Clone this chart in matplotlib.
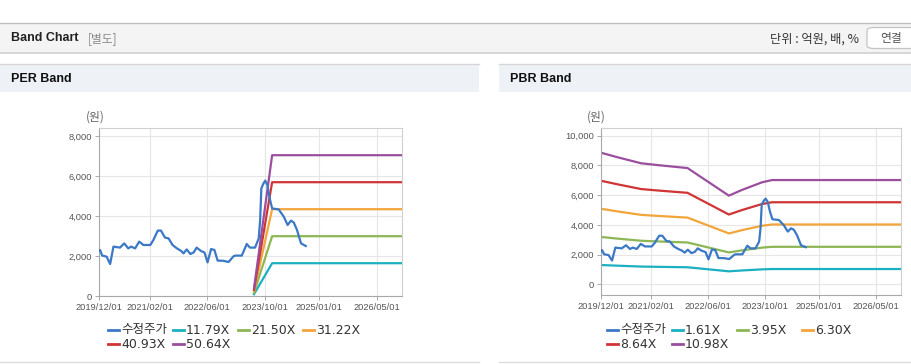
import matplotlib
matplotlib.use("Agg")
import matplotlib.pyplot as plt
import matplotlib.dates as mdates
from matplotlib.patches import Rectangle, FancyBboxPatch
from matplotlib.lines import Line2D
from matplotlib.ticker import FuncFormatter
import pandas as pd

W, H = 912, 364

# 수정주가 (원)
price_dates = [
    "2019-12-01", "2019-12-10", "2019-12-28", "2020-02-03", "2020-03-04", "2020-04-01",
    "2020-05-26", "2020-07-01", "2020-08-04", "2020-08-28", "2020-10-01", "2020-11-04",
    "2020-12-10", "2021-02-06", "2021-03-04", "2021-04-10", "2021-05-07", "2021-06-10",
    "2021-07-10", "2021-08-13", "2021-09-19", "2021-10-25", "2021-11-13", "2021-12-10",
    "2022-01-10", "2022-02-07", "2022-03-04", "2022-04-10", "2022-05-10", "2022-06-04",
    "2022-07-04", "2022-08-01", "2022-08-28", "2022-10-16", "2022-11-28", "2023-01-10",
    "2023-01-25", "2023-03-20", "2023-05-01", "2023-05-28", "2023-07-10", "2023-08-10",
    "2023-08-22", "2023-09-01", "2023-09-19", "2023-10-04", "2023-10-22", "2023-11-10",
    "2023-12-01", "2024-01-25", "2024-03-08", "2024-04-10", "2024-05-08", "2024-06-01",
    "2024-06-28", "2024-08-01", "2024-09-10",
]
price = [
    2265, 2300, 2020, 1970, 1600, 2470,
    2420, 2630, 2380, 2470, 2380, 2720,
    2550, 2550, 2800, 3270, 3270, 2920,
    2880, 2550, 2380, 2250, 2130, 2330,
    2100, 2180, 2420, 2250, 2170, 1680,
    2350, 2300, 1770, 1760, 1700, 1990,
    2020, 2020, 2600, 2420, 2420, 2880,
    3800, 5380, 5630, 5770, 5550, 4900,
    4380, 4330, 3970, 3550, 3770, 3670,
    3300, 2630, 2500,
]

# PER band
per_dates = ["2023-07-01", "2023-12-01", "2026-12-01"]
per_labels = ["11.79X", "21.50X", "31.22X", "40.93X", "50.64X"]
per_1179 = [88, 1640, 1640]
per_2150 = [161, 2990, 2990]
per_3122 = [234, 4340, 4340]
per_4093 = [307, 5690, 5690]
per_5064 = [380, 7040, 7040]

# PBR band
pbr_dates = [
    "2019-12-01", "2020-04-22", "2020-11-07", "2021-03-25", "2021-11-07", "2021-12-07",
    "2022-11-25", "2023-03-15", "2023-09-04", "2023-11-28", "2026-12-01",
]
pbr_labels = ["1.61X", "3.95X", "6.30X", "8.64X", "10.98X"]
pbr_161 = [1299, 1253, 1195, 1177, 1151, 1148, 875, 931, 1007, 1029, 1029]
pbr_395 = [3187, 3075, 2932, 2888, 2824, 2816, 2147, 2284, 2471, 2525, 2525]
pbr_630 = [5084, 4906, 4676, 4608, 4504, 4493, 3426, 3644, 3942, 4028, 4028]
pbr_864 = [6973, 6729, 6414, 6320, 6178, 6162, 4698, 4997, 5407, 5525, 5525]
pbr_1098 = [8860, 8550, 8150, 8030, 7850, 7830, 5970, 6350, 6870, 7020, 7020]

tick_dates = ["2019-12-01", "2021-02-01", "2022-06-01", "2023-10-01", "2025-01-01", "2026-05-01"]
x_range = ["2019-12-01", "2026-12-01"]

price_color = "#3b78c6"
band_colors = ["#1bb0c2", "#8db654", "#f2a53a", "#d03434", "#9a4f9e"]
price_label = "수정주가"

plt.rcParams["font.family"] = ["Liberation Sans", "Noto Sans CJK KR"]
fig = plt.figure(figsize=(W / 100, H / 100), dpi=100)


def fx(x):
    return x / W


def fy(y):
    return 1 - y / H


def rect(x0, y0, x1, y1, color):
    fig.patches.append(Rectangle((fx(x0), fy(y1)), fx(x1 - x0), (y1 - y0) / H,
                                 transform=fig.transFigure, color=color, lw=0, zorder=0))


def hline(x0, x1, y, color, lw=1.0):
    fig.add_artist(Line2D([fx(x0), fx(x1)], [fy(y), fy(y)], color=color, lw=lw,
                          transform=fig.transFigure))


# 상단 헤더
hline(0, W, 22.5, "#bdbdbd")
rect(0, 23, W, 52, "#f4f4f4")
hline(0, W, 52.5, "#cfcfcf", 1.2)
fig.text(fx(11), fy(38), "Band Chart", fontsize=9, fontweight="bold", color="#222222", va="center")
fig.text(fx(88), fy(38.5), "[별도]", fontsize=8.5, color="#8a8a8a", va="center",
         family=["Noto Sans CJK KR"])
fig.text(fx(859), fy(39), "단위 : 억원, 배, %", fontsize=8.8, color="#333333", va="center",
         ha="right", family=["Noto Sans CJK KR", "DejaVu Sans"])
fig.patches.append(FancyBboxPatch((fx(867), fy(48.5)), fx(50), 21 / H,
                                  boxstyle="round,pad=0,rounding_size=0.008",
                                  transform=fig.transFigure, fc="white", ec="#c4c4c4", lw=0.9))
fig.text(fx(891), fy(38.5), "연결", fontsize=8.5, color="#555555", va="center", ha="center",
         family=["Noto Sans CJK KR"])

# 패널 헤더
for x0, x1, title in [(0, 479, "PER Band"), (499, W, "PBR Band")]:
    rect(x0, 64, x1, 92, "#eef2f7")
    hline(x0, x1, 64, "#d6d6d6")
    hline(x0, x1, 362, "#dddddd")
    fig.text(fx(x0 + 11), fy(79), title, fontsize=9, fontweight="bold", color="#111111", va="center")


def style_axes(ax, ylim, yticks):
    ax.set_xlim(pd.to_datetime(x_range[0]), pd.to_datetime(x_range[1]))
    ax.set_ylim(*ylim)
    ax.set_yticks(yticks)
    ax.yaxis.set_major_formatter(FuncFormatter(lambda v, p: f"{int(v):,}"))
    ax.set_xticks(pd.to_datetime(tick_dates))
    ax.xaxis.set_major_formatter(mdates.DateFormatter("%Y/%m/%d"))
    ax.grid(True, color="#e6e6e6", lw=0.8)
    ax.set_axisbelow(True)
    for side in ["top", "right"]:
        ax.spines[side].set_color("#d0d0d0")
    for side in ["left", "bottom"]:
        ax.spines[side].set_color("#a8a8a8")
    for s in ax.spines.values():
        s.set_linewidth(0.8)
    ax.tick_params(length=3, width=0.7, color="#aaaaaa", labelsize=6.7, labelcolor="#555555", pad=2)


def draw_legend(x_start, labels, colors):
    items = [(price_label, price_color)] + list(zip(labels, colors))
    for i, (lab, col) in enumerate(items):
        row, colnum = divmod(i, 4)
        x = x_start + colnum * 65
        y = 330 + row * 14
        fig.add_artist(Line2D([fx(x), fx(x + 11)], [fy(y), fy(y)], color=col, lw=2,
                              transform=fig.transFigure))
        fig.text(fx(x + 13), fy(y), lab, fontsize=9, color="#333333", va="center",
                 family=["DejaVu Sans", "Noto Sans CJK KR"])


# PER Band
ax1 = fig.add_axes([fx(99), fy(296), fx(303), 168 / H])
per_bands = [per_1179, per_2150, per_3122, per_4093, per_5064]
ax1.plot(pd.to_datetime(price_dates), price, color=price_color, lw=1.6, zorder=3)
for vals, col in zip(per_bands, band_colors):
    ax1.plot(pd.to_datetime(per_dates), vals, color=col, lw=1.6, zorder=2)
style_axes(ax1, (0, 8400), [0, 2000, 4000, 6000, 8000])
fig.text(fx(95), fy(117), "(원)", fontsize=8.5, color="#666666", ha="center", va="center",
         family=["Noto Sans CJK KR"])
draw_legend(108, per_labels, band_colors)

# PBR Band
ax2 = fig.add_axes([fx(601), fy(295), fx(300), 167 / H])
pbr_bands = [pbr_161, pbr_395, pbr_630, pbr_864, pbr_1098]
ax2.plot(pd.to_datetime(price_dates), price, color=price_color, lw=1.6, zorder=3)
for vals, col in zip(pbr_bands, band_colors):
    ax2.plot(pd.to_datetime(pbr_dates), vals, color=col, lw=1.6, zorder=2)
style_axes(ax2, (-720, 10525), [0, 2000, 4000, 6000, 8000, 10000])
fig.text(fx(596), fy(117), "(원)", fontsize=8.5, color="#666666", ha="center", va="center",
         family=["Noto Sans CJK KR"])
draw_legend(607, pbr_labels, band_colors)

fig.savefig("out.png", dpi=100)
